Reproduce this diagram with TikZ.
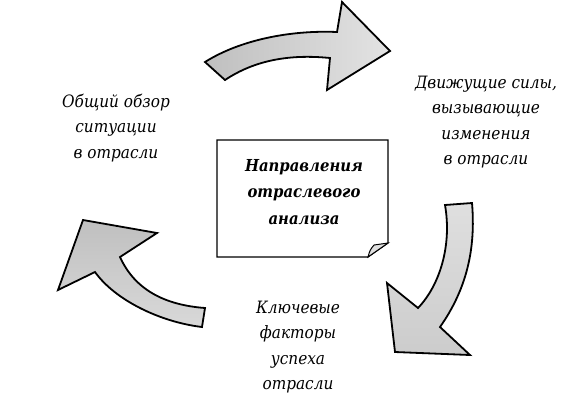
\documentclass[tikz,border=0pt]{standalone}
\usepackage{fontspec}
\setmainfont{DejaVu Serif Condensed}
\begin{document}
\begin{tikzpicture}[x=1pt,y=-1pt,
  bigarrow/.style={draw=black,line width=1.8pt,line join=miter,fill=gray!35},
  lbl/.style={align=center,font=\fontsize{17}{25.5}\selectfont\itshape,inner sep=0pt},
  ttl/.style={align=center,font=\fontsize{16.5}{26.5}\selectfont\bfseries\itshape,inner sep=0pt}]
\useasboundingbox (0,0) rectangle (588,400);
% top arrow
\path[bigarrow,left color=gray!50,right color=gray!22,shading angle=90]
  (205,62) .. controls (240,40) and (290,30) .. (337,32)
  -- (342,2) -- (390,51) -- (327,90) -- (330,58)
  .. controls (290,54) and (255,60) .. (225,80) -- cycle;
% right arrow
\path[bigarrow,top color=gray!25,bottom color=gray!40]
  (445,205) -- (472,203)
  .. controls (476,250) and (466,290) .. (440,327)
  -- (470,355) -- (395,352) -- (387,283) -- (418,308)
  .. controls (440,285) and (452,245) .. cycle;
% left arrow
\path[bigarrow,top color=gray!50,bottom color=gray!30]
  (120,257) .. controls (135,290) and (165,305) .. (205,308)
  -- (202,327) .. controls (160,322) and (115,300) .. (95,272)
  -- (58,290) -- (83,220) -- (157,233) -- cycle;
% center box
\draw[line width=1.2pt,fill=white]
  (217,140) -- (388,140) -- (388,243) -- (368,257) -- (217,257) -- cycle;
\draw[line width=1pt,fill=gray!25]
  (368,257) .. controls (370,250) .. (374,245) -- (388,243) -- cycle;
\node[ttl] (center) at (304,192) {Направления\\отраслевого\\анализа};
% labels
\node[lbl] (overview) at (116,128) {Общий обзор\\ситуации\\в отрасли};
\node[lbl] (drivers) at (486,122) {Движущие силы,\\вызывающие\\изменения\\в отрасли};
\node[lbl] (factors) at (298,347) {Ключевые\\факторы\\успеха\\отрасли};
\end{tikzpicture}
\end{document}
